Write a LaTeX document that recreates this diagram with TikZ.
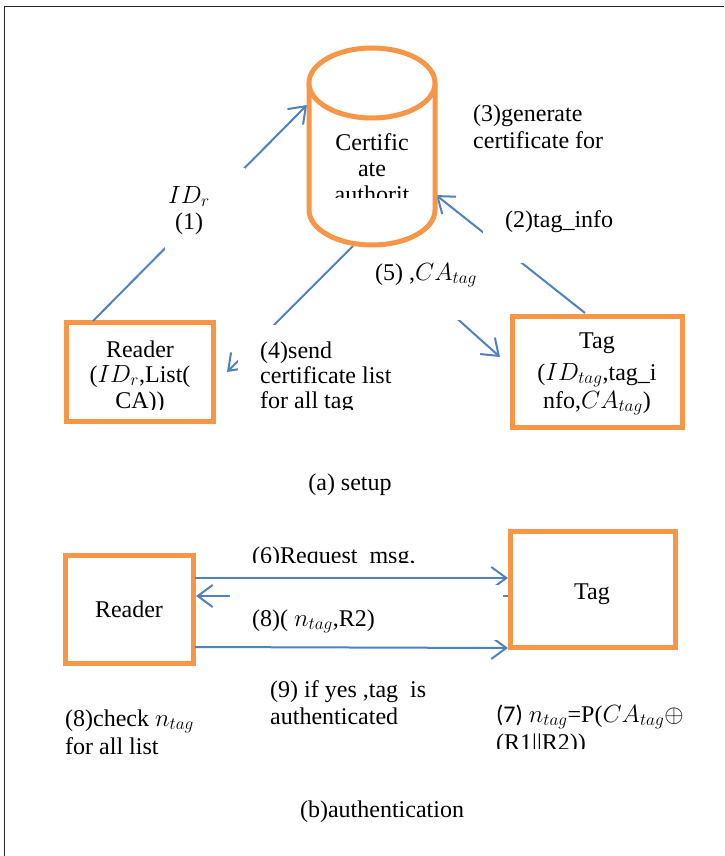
\documentclass[tikz,border=0pt]{standalone}
\usepackage{fontspec}
\setmainfont{Liberation Serif}
\newfontfamily\tnr{Liberation Serif}
\newfontfamily\calib{Carlito}
\usetikzlibrary{arrows.meta}
\definecolor{orng}{HTML}{F79646}
\definecolor{blu}{HTML}{4F81BD}
\begin{document}
\begin{tikzpicture}[x=1pt,y=1pt,
  obox/.style={draw=orng, line width=5pt, fill=white, inner sep=0},
  cyl/.style={draw=orng, line width=5pt, fill=white},
  conn/.style={draw=blu, line width=2pt, -{Straight Barb[length=15pt,width=22pt]}},
  tbox/.style={fill=white, draw=none, inner sep=0, anchor=north west},
  lbl/.style={font=\tnr\fontsize{24}{26}\selectfont, inner sep=0}]
\useasboundingbox (0,0) rectangle (724,-856);
% frame
\draw[line width=1pt, black!85] (4,-856) -- (4,-6.5) -- (724,-6.5);

% ---------- (a) setup ----------
\node[minimum width=126, minimum height=197, inner sep=0] (ca) at (372,-146.5) {};
\node[obox, minimum width=147, minimum height=99] (rd1) at (139.5,-371.5) {};
\node[obox, minimum width=170, minimum height=111] (tg1) at (597,-371.5) {};

% connector end points
\coordinate (c1a) at (93,-321);
\coordinate (c1b) at (307,-105);
\coordinate (c2a) at (585,-313);
\coordinate (c2b) at (436,-195);
\coordinate (c4a) at (353,-246);
\coordinate (c4b) at (227,-372);
\coordinate (c5a) at (376,-246);
\coordinate (c5b) at (500,-357);

\draw[conn] (c1a) -- (c1b);
\draw[conn] (c2a) -- (c2b);
\draw[conn] (c4a) -- (c4b);
\draw[conn] (c5a) -- (c5b);

% white text boxes covering the connectors
\node[tbox, minimum width=80, minimum height=82] (w1) at (165,-168) {};
\node[tbox, minimum width=140, minimum height=63] (w2) at (483,-200) {};
\node[tbox, minimum width=162, minimum height=86] (w4) at (238,-325) {};
\node[tbox, minimum width=130, minimum height=80] (w5) at (362,-240) {};

% certificate authority cylinder (drawn over the text box)
\draw[cyl] (309,-83) -- (309,-210) arc[start angle=180, end angle=360, x radius=63, y radius=35] -- (435,-83);
\draw[cyl] (372,-83) ellipse[x radius=63, y radius=35];

% texts
\begin{scope}
\clip (300,-100) rectangle (445,-197);
\node[lbl, align=center, anchor=north] (tca) at (372,-131.8) {\strut Certific\\ate\\authorit};
\end{scope}
\node[lbl, align=center, anchor=north] (t1) at (189,-184.8) {\strut$ID_r$\\(1)};
\node[lbl, anchor=base west] (t2) at (505,-227) {(2)tag\_info};
\node[lbl, align=left, anchor=north west] (t3) at (473,-102.8) {\strut(3)generate\\[1pt]certificate for};
\begin{scope}
\clip (240,-320) rectangle (420,-409);
\node[lbl, align=left, anchor=north west] (t4) at (260,-339.8) {\strut(4)send\\[-1pt]certificate list\\[-1pt]for all tag};
\end{scope}
\node[lbl, anchor=base west] (t5) at (375,-280) {(5) ,$CA_{tag}$};
\begin{scope}
\clip (70,-325) rectangle (210,-409);
\node[lbl, align=center, anchor=north] (trd1) at (140,-338.8) {\strut Reader\\[-1pt]($ID_r$,List(\\CA))};
\end{scope}
\node[lbl, align=center, anchor=north] (ttg1) at (597,-329.8) {\strut Tag\\[6pt]($ID_{tag}$,tag\_i\\[2pt]nfo,$CA_{tag}$)};
\node[lbl, anchor=base] (capa) at (350,-490) {(a) setup};

% ---------- (b) authentication ----------
\node[obox, minimum width=128, minimum height=108] (rd2) at (129,-609) {};
\node[obox, minimum width=165, minimum height=116] (tg2) at (592.5,-589) {};

\coordinate (c6a) at (195,-578);
\coordinate (c6b) at (508,-578);
\coordinate (c8a) at (508,-596);
\coordinate (c8b) at (196,-596);
\coordinate (c9a) at (195,-647);
\coordinate (c9b) at (508,-648);

\draw[conn] (c6a) -- (c6b);
\draw[conn] (c8a) -- (c8b);
\draw[conn] (c9a) -- (c9b);

\node[tbox, minimum width=273, minimum height=55] (w8) at (230,-585) {};

\node[lbl, anchor=base] (trd2) at (129,-617) {Reader};
\node[lbl, anchor=base] (ttg2) at (592,-599) {Tag};
\begin{scope}
\clip (240,-520) rectangle (500,-562);
\node[lbl, anchor=base west] (t6) at (252,-563) {(6)Request\ \ msg,};
\end{scope}
\node[lbl, anchor=base west] (t8) at (252,-626) {(8)( $n_{tag}$,R2)};
\node[lbl, align=left, anchor=north west] (t8c) at (65,-707.8) {\strut(8)check $n_{tag}$\\[2pt]for all list};
\node[lbl, align=left, anchor=north west] (t9) at (270,-678.8) {\strut(9) if yes ,tag\ \ is\\[1pt]authenticated};
\begin{scope}
\clip (480,-690) rectangle (724,-748);
\node[lbl, align=left, anchor=north west] (t7) at (496,-703.8) {\strut{\calib(7)} $n_{tag}$=P($CA_{tag}\oplus$\\[2pt](R1{|}{|}R2))};
\end{scope}
\node[lbl, anchor=base] (capb) at (382,-817) {(b)authentication};
\end{tikzpicture}
\end{document}
